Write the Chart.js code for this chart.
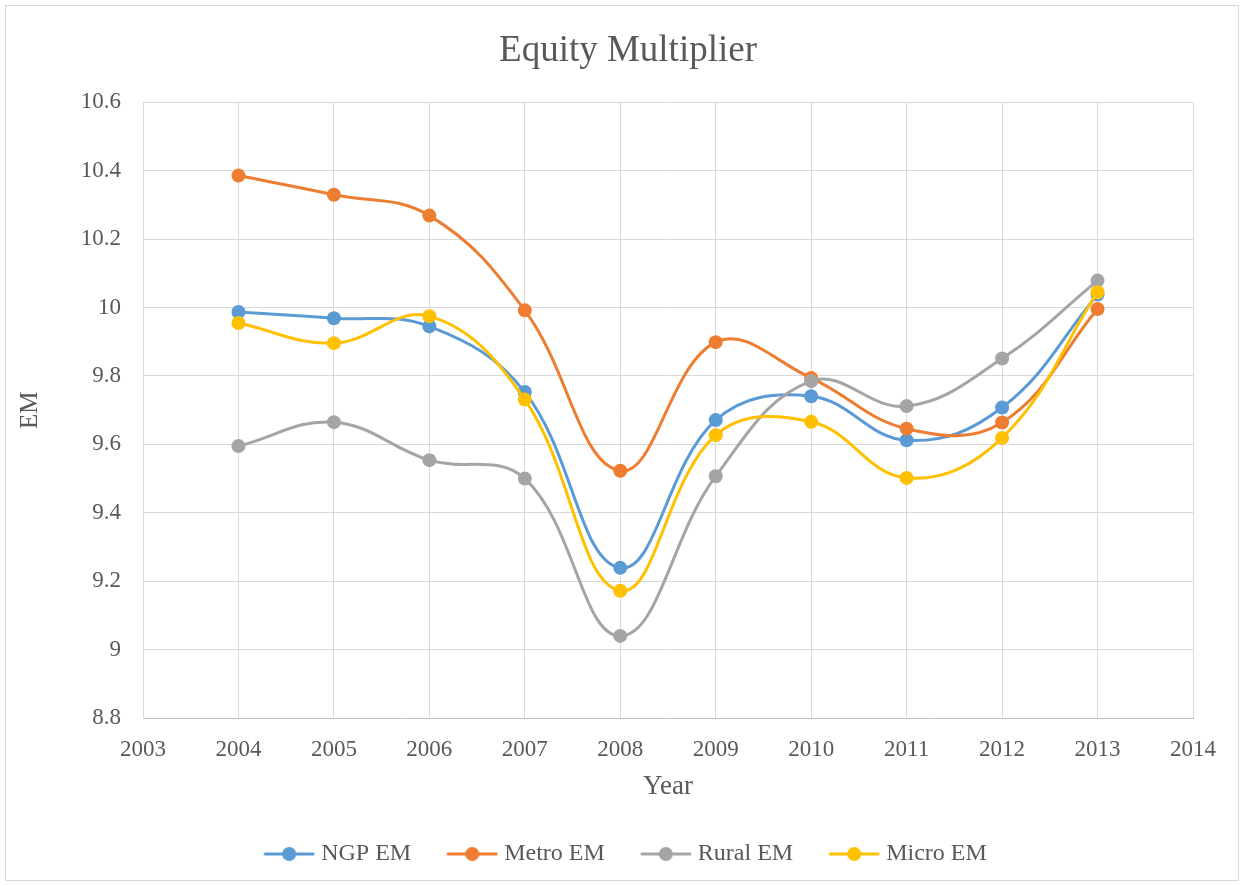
<!DOCTYPE html>
<html>
<head>
<meta charset="utf-8">
<title>Equity Multiplier</title>
<script src="https://cdn.jsdelivr.net/npm/chart.js@4/dist/chart.umd.min.js"></script>
<style>
    html, body { margin: 0; padding: 0; background: #ffffff; }
    #wrap { width: 1244px; height: 886px; }
</style>
</head>
<body>
<div id="wrap"><canvas id="em-chart" width="1244" height="886"></canvas></div>
<script>
    const years = [2004, 2005, 2006, 2007, 2008, 2009, 2010, 2011, 2012, 2013];
    const ngpEM = [9.987, 9.969, 9.945, 9.753, 9.239, 9.671, 9.741, 9.612, 9.708, 10.038];
    const metroEM = [10.386, 10.330, 10.269, 9.992, 9.523, 9.899, 9.794, 9.646, 9.664, 9.996];
    const ruralEM = [9.595, 9.665, 9.554, 9.500, 9.040, 9.507, 9.785, 9.712, 9.851, 10.079];
    const microEM = [9.955, 9.896, 9.975, 9.731, 9.172, 9.627, 9.666, 9.502, 9.619, 10.045];

    const seriesNames = ['NGP EM', 'Metro EM', 'Rural EM', 'Micro EM'];
    const seriesColors = ['#5B9BD5', '#ED7D31', '#A5A5A5', '#FFC000'];

    const textColor = '#595959';
    const gridColor = '#D9D9D9';
    const fontFamily = '"Liberation Serif", "Times New Roman", serif';

    // little line + dot marker for the legend, like Excel draws it
    function legendMarker(color) {
        const c = document.createElement('canvas');
        c.width = 52;
        c.height = 16;
        const g = c.getContext('2d');
        g.strokeStyle = color;
        g.lineWidth = 3;
        g.lineCap = 'round';
        g.beginPath();
        g.moveTo(2, 8);
        g.lineTo(50, 8);
        g.stroke();
        g.fillStyle = color;
        g.beginPath();
        g.arc(26, 8, 7, 0, Math.PI * 2);
        g.fill();
        return c;
    }

    const chartBorder = {
        id: 'chartBorder',
        beforeDraw(chart) {
            const { ctx, width, height } = chart;
            ctx.save();
            ctx.fillStyle = '#ffffff';
            ctx.fillRect(0, 0, width, height);
            ctx.strokeStyle = gridColor;
            ctx.lineWidth = 1;
            ctx.strokeRect(5.5, 5.5, width - 11, height - 11);
            ctx.restore();
        }
    };

    const allSeries = [ngpEM, metroEM, ruralEM, microEM];

    const datasets = allSeries.map((values, i) => ({
        label: seriesNames[i],
        data: years.map((yr, k) => ({ x: yr, y: values[k] })),
        borderColor: seriesColors[i],
        backgroundColor: seriesColors[i],
        borderWidth: 3,
        pointRadius: 7,
        pointHoverRadius: 7,
        pointBorderWidth: 0,
        tension: 0.4,
        fill: false,
        order: allSeries.length - i
    }));

    new Chart(document.getElementById('em-chart'), {
        type: 'line',
        data: { datasets: datasets },
        options: {
            responsive: false,
            devicePixelRatio: 1,
            animation: false,
            // title and legend sit centred on the whole picture, not on the plot
            layout: { padding: { left: 63, right: 51, top: 0, bottom: 10 } },
            plugins: {
                title: {
                    display: true,
                    text: 'Equity Multiplier',
                    color: textColor,
                    font: { family: fontFamily, size: 37, weight: 'normal' },
                    padding: { top: 29, bottom: 29 }
                },
                legend: {
                    position: 'bottom',
                    labels: {
                        color: textColor,
                        font: { family: fontFamily, size: 24 },
                        usePointStyle: true,
                        pointStyleWidth: 40,
                        padding: 41,
                        sort: (a, b) => a.datasetIndex - b.datasetIndex,
                        generateLabels(chart) {
                            const items = Chart.defaults.plugins.legend.labels.generateLabels(chart);
                            items.forEach(item => {
                                item.pointStyle = legendMarker(seriesColors[item.datasetIndex]);
                            });
                            return items;
                        }
                    }
                },
                tooltip: { enabled: false }
            },
            scales: {
                x: {
                    type: 'linear',
                    min: 2003,
                    max: 2014,
                    grid: { color: gridColor, lineWidth: 1, drawTicks: false },
                    border: { color: '#BFBFBF', width: 1 },
                    ticks: {
                        stepSize: 1,
                        padding: 18,
                        color: textColor,
                        font: { family: fontFamily, size: 23 },
                        callback: v => String(v)
                    },
                    title: {
                        display: true,
                        text: 'Year',
                        color: textColor,
                        font: { family: fontFamily, size: 27 },
                        padding: { top: 0, bottom: -2 }
                    },
                    afterFit(scale) {
                        scale.height = 83;
                    }
                },
                y: {
                    min: 8.8,
                    max: 10.6,
                    grid: { color: gridColor, lineWidth: 1, drawTicks: false },
                    border: { color: gridColor, width: 1 },
                    ticks: {
                        stepSize: 0.2,
                        padding: 22,
                        color: textColor,
                        font: { family: fontFamily, size: 23 },
                        callback: v => String(Number(v.toFixed(1)))
                    },
                    title: {
                        display: true,
                        text: 'EM',
                        color: textColor,
                        font: { family: fontFamily, size: 25 },
                        padding: { top: -48, bottom: 0 }
                    },
                    afterFit(scale) {
                        scale.width = 80;
                    }
                }
            }
        },
        plugins: [chartBorder]
    });
</script>
</body>
</html>
